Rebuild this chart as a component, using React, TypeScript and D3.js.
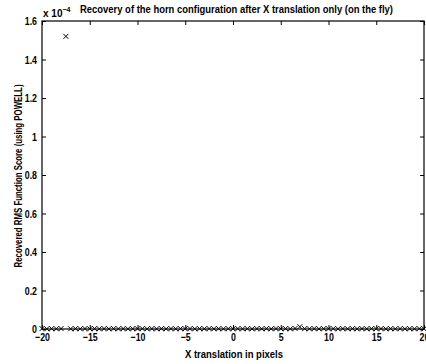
import { useEffect, useRef } from 'react';
import { select, scaleLinear, axisBottom, axisLeft, axisTop, axisRight, range } from 'd3';

// x translation in pixels, -20 .. 20 step 0.5
const xVals = range(-20, 20.001, 0.5);
// recovered RMS score, in units of 1e-4
const yVals = [
  0.002, 0.001, 0.002, 0.001, 0.002, 1.52, 0.001, 0.002, 0.001, 0.002,
  0.001, 0.002, 0.001, 0.002, 0.001, 0.002, 0.001, 0.002, 0.001, 0.002,
  0.001, 0.002, 0.001, 0.002, 0.001, 0.002, 0.001, 0.002, 0.001, 0.002,
  0.001, 0.002, 0.001, 0.002, 0.001, 0.002, 0.001, 0.002, 0.001, 0.002,
  0.001, 0.002, 0.001, 0.002, 0.001, 0.002, 0.001, 0.002, 0.001, 0.002,
  0.001, 0.002, 0.001, 0.003, 0.012, 0.002, 0.001, 0.002, 0.001, 0.002,
  0.001, 0.002, 0.001, 0.002, 0.001, 0.002, 0.001, 0.002, 0.001, 0.002,
  0.001, 0.002, 0.001, 0.002, 0.001, 0.002, 0.001, 0.002, 0.001, 0.002,
  0.001,
];
const xTicks = [-20, -15, -10, -5, 0, 5, 10, 15, 20];
const yTicks = [0, 0.2, 0.4, 0.6, 0.8, 1, 1.2, 1.4, 1.6];

const title = 'Recovery of the horn configuration after X translation only (on the fly)';
const xLabel = 'X translation in pixels';
const yLabel = 'Recovered RMS Function Score (using POWELL)';

const FONT = 'Liberation Sans, Arial, sans-serif';

function App() {
  const svgRef = useRef(null);
  const width = 426;
  const height = 364;
  const margin = { top: 21, bottom: 35, left: 42, right: 2 };

  useEffect(() => {
    const svg = select(svgRef.current);
    svg.selectAll('*').remove();

    const xScale = scaleLinear().domain([-20, 20]).range([margin.left, width - margin.right]);
    const yScale = scaleLinear().domain([0, 1.6]).range([height - margin.bottom, margin.top]);

    svg.append('rect').attr('width', width).attr('height', height).attr('fill', '#fff');

    const styleAxis = (g) => {
      g.selectAll('.domain').remove();
      g.selectAll('line').attr('stroke', '#000').attr('stroke-width', 1);
      g.selectAll('text')
        .attr('font-family', FONT).attr('font-size', 11).attr('font-weight', 'bold').attr('fill', '#000')
        .each(function () {
          // squeeze the tick labels a bit, the scanned font is narrow
          const len = this.getComputedTextLength();
          if (len > 0) select(this).attr('textLength', len * 0.8).attr('lengthAdjust', 'spacingAndGlyphs');
        });
    };

    // bottom axis with labels, ticks point inward
    svg.append('g')
      .attr('transform', `translate(0, ${height - margin.bottom})`)
      .call(axisBottom(xScale).tickValues(xTicks).tickSize(-4).tickPadding(4).tickFormat(d => (d < 0 ? '\u2212' + Math.abs(d) : String(d))))
      .call(styleAxis);
    svg.append('g')
      .attr('transform', `translate(0, ${margin.top})`)
      .call(axisTop(xScale).tickValues(xTicks).tickSize(-4).tickFormat(() => ''))
      .call(styleAxis);
    svg.append('g')
      .attr('transform', `translate(${margin.left}, 0)`)
      .call(axisLeft(yScale).tickValues(yTicks).tickSize(-4).tickPadding(5).tickFormat(d => String(+d.toFixed(1))))
      .call(styleAxis);
    svg.append('g')
      .attr('transform', `translate(${width - margin.right}, 0)`)
      .call(axisRight(yScale).tickValues(yTicks).tickSize(-4).tickFormat(() => ''))
      .call(styleAxis);

    // plot box
    svg.append('rect')
      .attr('x', margin.left).attr('y', margin.top)
      .attr('width', width - margin.left - margin.right)
      .attr('height', height - margin.top - margin.bottom)
      .attr('fill', 'none').attr('stroke', '#000').attr('stroke-width', 1.2);

    // x markers
    const s = 2.5;
    const marks = svg.append('g').attr('stroke', '#000').attr('stroke-width', 1).attr('fill', 'none');
    xVals.forEach((x, i) => {
      const px = xScale(x);
      const py = yScale(yVals[i]);
      marks.append('path').attr('d', `M${px - s},${py - s}L${px + s},${py + s}M${px - s},${py + s}L${px + s},${py - s}`);
    });

    // exponent label
    const exp = svg.append('text').attr('x', margin.left + 1).attr('y', 17)
      .attr('font-family', FONT).attr('font-size', 10).attr('font-weight', 'bold');
    exp.append('tspan').text('x 10');
    exp.append('tspan').attr('dy', -5).attr('font-size', 7).text('\u22124');

    // title
    svg.append('text').attr('x', 236.5).attr('y', 13).attr('text-anchor', 'middle')
      .attr('font-family', FONT).attr('font-size', 10).attr('font-weight', 'bold')
      .attr('textLength', 313).attr('lengthAdjust', 'spacingAndGlyphs')
      .text(title);

    // x label
    svg.append('text').attr('x', 234).attr('y', 358).attr('text-anchor', 'middle')
      .attr('font-family', FONT).attr('font-size', 11).attr('font-weight', 'bold')
      .attr('textLength', 98).attr('lengthAdjust', 'spacingAndGlyphs')
      .text(xLabel);

    // y label
    svg.append('text')
      .attr('transform', `translate(18, 176) rotate(-90)`)
      .attr('dy', '0.35em').attr('text-anchor', 'middle')
      .attr('font-family', FONT).attr('font-size', 10).attr('font-weight', 'bold')
      .attr('textLength', 183).attr('lengthAdjust', 'spacingAndGlyphs')
      .text(yLabel);
  }, []);

  return (
    <svg ref={svgRef} width={width} height={height} style={{ position: 'absolute', left: 0, top: 0 }}></svg>
  );
}

export default App;
